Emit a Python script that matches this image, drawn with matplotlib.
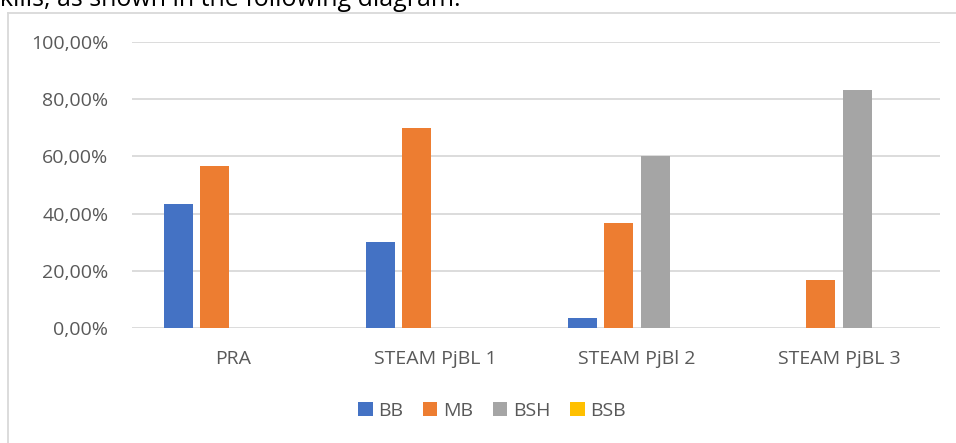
import matplotlib
matplotlib.use("Agg")
import matplotlib.pyplot as plt
from matplotlib.lines import Line2D
from matplotlib.ticker import FuncFormatter
import numpy as np

categories = ["PRA", "STEAM PjBL 1", "STEAM PjBl 2", "STEAM PjBL 3"]
series_names = ["BB", "MB", "BSH", "BSB"]
bb = [0.4333, 0.30, 0.0333, 0.0]
mb = [0.5667, 0.70, 0.3667, 0.1667]
bsh = [0.0, 0.0, 0.60, 0.8333]
bsb = [0.0, 0.0, 0.0, 0.0]
yticks = [0.0, 0.2, 0.4, 0.6, 0.8, 1.0]
colors = ["#4472C4", "#ED7D31", "#A5A5A5", "#FFC000"]

plt.rcParams['font.family'] = ['Open Sans', 'DejaVu Sans']
W, H = 956, 443
fig = plt.figure(figsize=(W / 100, H / 100), dpi=100)
ax = fig.add_axes([132 / W, (H - 328) / H, (940 - 132) / W, (328 - 42) / H])

x = np.arange(len(categories))
step, width = 0.18, 0.143
all_series = [bb, mb, bsh, bsb]
handles = []
for i, (vals, name, c) in enumerate(zip(all_series, series_names, colors)):
    b = ax.bar(x + (i - 1.5) * step, vals, width, color=c, label=name, zorder=3)
    handles.append(b)

FS = 14
ax.set_xlim(-0.5, len(categories) - 0.5)
ax.set_ylim(0, 1.0)
ax.set_yticks(yticks)
ax.yaxis.set_major_formatter(FuncFormatter(lambda v, p: f"{v*100:.2f}%".replace(".", ",")))
ax.set_xticks(x)
ax.set_xticklabels(categories)
for v in yticks:
    ax.axhline(v, color="#D9D9D9", lw=1.3, zorder=1)
for s in ax.spines.values():
    s.set_visible(False)
ax.tick_params(axis="both", length=0, labelsize=FS, labelcolor="#595959")
ax.tick_params(axis="y", pad=17)
ax.tick_params(axis="x", pad=16)

fig.legend(handles=handles, labels=series_names, loc="center", bbox_to_anchor=(492 / W, (H - 411) / H),
           ncol=4, frameon=False, fontsize=FS, labelcolor="#595959",
           handlelength=0.75, handleheight=0.75, handletextpad=0.3, columnspacing=1.0)

# chart area border
fig.add_artist(Line2D([8 / W, 8 / W], [0, (H - 13) / H], color="#D9D9D9", lw=1.3, transform=fig.transFigure))
fig.add_artist(Line2D([8 / W, 1], [(H - 13) / H, (H - 13) / H], color="#D9D9D9", lw=1.3, transform=fig.transFigure))

# partially visible text above the chart
fig.text(-12 / W, 1 - 6 / H, "skills, as shown in the following diagram.", fontsize=18,
         color="#000000", va="baseline", ha="left")

fig.savefig("out.png", dpi=100)
